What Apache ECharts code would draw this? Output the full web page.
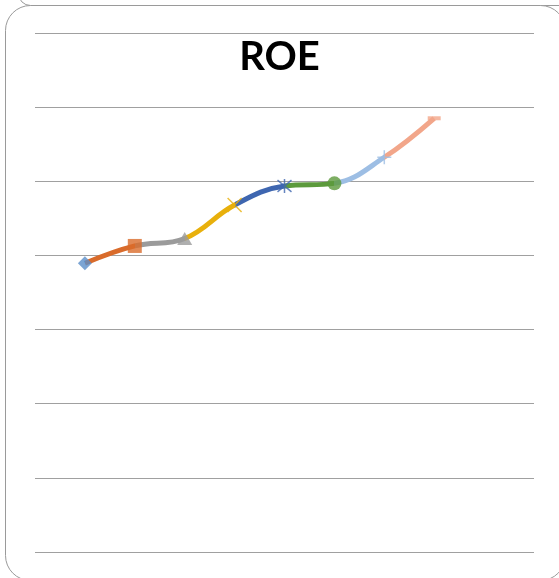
<!DOCTYPE html>
<html>
<head>
<meta charset="utf-8">
<title>ROE</title>
<script src="https://cdn.jsdelivr.net/npm/echarts@6/dist/echarts.min.js"></script>
<style>
  html, body { margin: 0; padding: 0; background: #ffffff; }
  #chart { width: 559px; height: 578px; }
</style>
</head>
<body>
<div id="chart"></div>
<script>
// Period positions along the horizontal axis (axis runs 0..10)
const periods = [1, 2, 3, 4, 5, 6, 7, 8];
// ROE values (%)
const roe = [19.47, 20.64, 21.14, 23.40, 24.68, 24.86, 26.62, 29.25];
// One colour per point; each segment takes the colour of the point it ends on
const pointColors = ['#5b8ec9', '#d96b2b', '#9b9b9b', '#e8b00c', '#3e66b0', '#5c9a3c', '#9dbee4', '#f2a68a'];
const pointSymbols = [
  'diamond',
  'rect',
  'triangle',
  'path://M0,0L10,10M10,0L0,10',
  'path://M1,1L11,11M11,1L1,11M6,0L6,12',
  'circle',
  'path://M0,6L12,6M6,0L6,12',
  'rect'
];
const pointSizes = [14, 14, [15, 13], 14, 14, 14, 14, [13, 4]];
const strokeOnly = [false, false, false, true, true, false, true, false];

const yMin = 0, yMax = 35, yStep = 5;

const chart = echarts.init(document.getElementById('chart'), null, { renderer: 'canvas' });

const linePoints = periods.map((p, i) => [p, roe[i]]);

const pieces = periods.map((p, i) => {
  if (i === 0) return { lte: p, color: pointColors[0] };
  return { gt: periods[i - 1], lte: p, color: pointColors[i] };
});
pieces.push({ gt: periods[periods.length - 1], color: pointColors[pointColors.length - 1] });

const markerData = periods.map((p, i) => ({
  value: [p, roe[i]],
  symbol: pointSymbols[i],
  symbolSize: pointSizes[i],
  itemStyle: strokeOnly[i]
    ? { color: 'rgba(0,0,0,0)', borderColor: pointColors[i], borderWidth: 1.5 }
    : { color: pointColors[i], borderWidth: 0 }
}));

chart.setOption({
  animation: false,
  backgroundColor: '#ffffff',
  title: {
    text: 'ROE',
    left: 'center',
    top: 32,
    textStyle: {
      fontFamily: 'Lato',
      fontWeight: 'bold',
      fontSize: 40,
      color: '#000000'
    }
  },
  graphic: [
    {
      type: 'rect',
      silent: true,
      shape: { x: 18.5, y: -60, width: 600, height: 65.5, r: 12 },
      style: { fill: 'none', stroke: '#9a9a9a', lineWidth: 1 },
      z: 0
    },
    {
      type: 'rect',
      silent: true,
      shape: { x: 5.5, y: 5.5, width: 560, height: 575, r: 25 },
      style: { fill: '#ffffff', stroke: '#9a9a9a', lineWidth: 1 },
      z: 0
    }
  ],
  grid: { left: 35, right: 25, top: 33, bottom: 26, containLabel: false },
  xAxis: {
    type: 'value',
    min: 0,
    max: 10,
    show: false
  },
  yAxis: {
    type: 'value',
    min: yMin,
    max: yMax,
    interval: yStep,
    axisLine: { show: false },
    axisTick: { show: false },
    axisLabel: { show: false },
    splitLine: { show: true, lineStyle: { color: '#a0a0a0', width: 1 } }
  },
  visualMap: {
    show: false,
    type: 'piecewise',
    dimension: 0,
    seriesIndex: 0,
    pieces: pieces
  },
  series: [
    {
      type: 'line',
      data: linePoints,
      smooth: 0.4,
      symbol: 'none',
      lineStyle: { width: 5 },
      z: 3
    },
    {
      type: 'scatter',
      data: markerData,
      z: 4
    }
  ]
});
</script>
</body>
</html>
